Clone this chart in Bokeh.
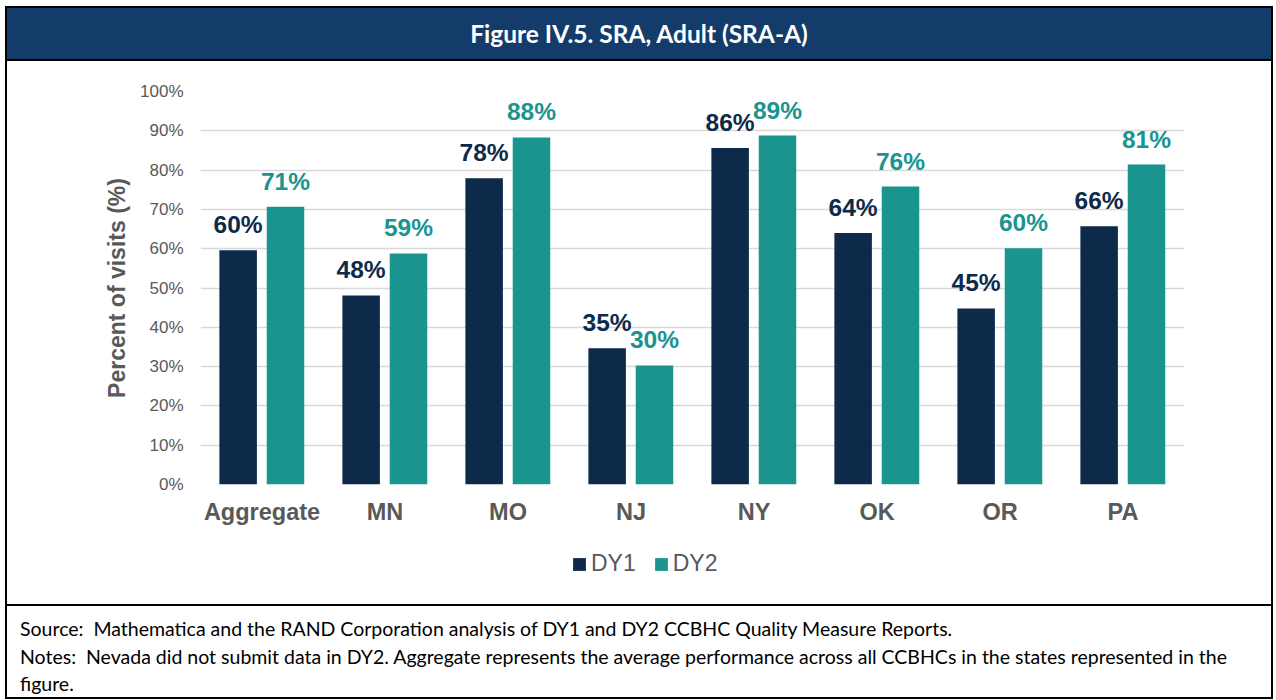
from bokeh.plotting import figure
from bokeh.models import (ColumnDataSource, FactorRange, Range1d, FixedTicker, PrintfTickFormatter,
                          LabelSet, Legend, LegendItem, Div)
from bokeh.layouts import column
from bokeh.core.properties import value
from bokeh.transform import dodge
from bokeh.embed import file_html
from bokeh.resources import INLINE

# ---- data ----
categories = ["Aggregate", "MN", "MO", "NJ", "NY", "OK", "OR", "PA"]
dy1 = [59.6, 48.1, 77.9, 34.7, 85.6, 64.0, 44.8, 65.7]
dy2 = [70.7, 58.8, 88.3, 30.3, 88.8, 75.8, 60.1, 81.4]
series_names = ["DY1", "DY2"]
y_ticks = [0, 10, 20, 30, 40, 50, 60, 70, 80, 90, 100]
title_text = "Figure IV.5. SRA, Adult (SRA-A)"
source_text = "Source:&nbsp; Mathematica and the RAND Corporation analysis of DY1 and DY2 CCBHC Quality Measure Reports."
notes_text = ("Notes:&nbsp; Nevada did not submit data in DY2. Aggregate represents the average performance "
              "across all CCBHCs in the states represented in the<br>figure.")

C1 = "#0E2A4A"
C2 = "#19948F"
GRAY = "#595959"
NAVY = "#133C6B"
ARIAL = "Liberation Sans"
CAL = "Lato"

src = ColumnDataSource(dict(
    cats=categories, dy1=dy1, dy2=dy2,
    lab1=[f"{round(v)}%" for v in dy1],
    lab2=[f"{round(v)}%" for v in dy2],
))

W = 1264
PH = 473
p = figure(width=W, height=PH, output_backend="svg", toolbar_location=None,
           x_range=FactorRange(*categories, range_padding=0),
           y_range=Range1d(0, 100),
           min_border_left=193, min_border_right=87, min_border_top=30, min_border_bottom=50)
p.outline_line_color = None
p.background_fill_color = "white"
p.border_fill_color = "white"

r1 = p.vbar(x=dodge("cats", -0.194, range=p.x_range), top="dy1", width=0.305, source=src,
            fill_color=C1, line_color=None)
r2 = p.vbar(x=dodge("cats", 0.191, range=p.x_range), top="dy2", width=0.305, source=src,
            fill_color=C2, line_color=None)

for col, top, off, colr in (("lab1", "dy1", -0.194, C1), ("lab2", "dy2", 0.191, C2)):
    ls = LabelSet(x=dodge("cats", off, range=p.x_range), y=top, text=col, source=src,
                  y_offset=17, text_align="center", text_baseline="alphabetic",
                  text_font=value(ARIAL), text_font_style="bold", text_font_size="24.5px", text_color=colr)
    p.add_layout(ls)

# axes & grid
p.xgrid.grid_line_color = None
p.ygrid.grid_line_color = "#D9D9D9"
p.ygrid.grid_line_width = 1.5
p.yaxis.ticker = FixedTicker(ticks=y_ticks)
p.yaxis.formatter = PrintfTickFormatter(format="%d%%")
for ax in (p.xaxis[0], p.yaxis[0]):
    ax.axis_line_color = None
    ax.major_tick_line_color = None
    ax.minor_tick_line_color = None
p.yaxis.major_label_text_font = ARIAL
p.yaxis.major_label_text_font_size = "17px"
p.yaxis.major_label_text_color = GRAY
p.yaxis.major_label_standoff = 11
p.yaxis.axis_label = "Percent of visits (%)"
p.yaxis.axis_label_text_font = ARIAL
p.yaxis.axis_label_text_font_style = "bold"
p.yaxis.axis_label_text_font_size = "23px"
p.yaxis.axis_label_text_color = GRAY
p.yaxis.axis_label_standoff = 7
p.xaxis.major_label_text_font = ARIAL
p.xaxis.major_label_text_font_style = "bold"
p.xaxis.major_label_text_font_size = "23.5px"
p.xaxis.major_label_text_color = GRAY
p.xaxis.major_label_standoff = 8

# legend strip (own small figure; its frame is aligned with the chart frame)
LH = 70
lf = figure(width=W, height=LH, output_backend="svg", toolbar_location=None,
            x_range=Range1d(0, 1), y_range=Range1d(0, 1),
            x_axis_location=None, y_axis_location=None,
            min_border=0, min_border_left=0, min_border_right=0, min_border_top=0, min_border_bottom=0)
lf.outline_line_color = None
lf.xgrid.grid_line_color = None
lf.ygrid.grid_line_color = None
lf.background_fill_color = "white"
lf.border_fill_color = "white"
hidden = ColumnDataSource(dict(x=[-10], top=[-10]))
lr1 = lf.vbar(x="x", top="top", width=0.1, source=hidden, fill_color=C1, line_color=None)
lr2 = lf.vbar(x="x", top="top", width=0.1, source=hidden, fill_color=C2, line_color=None)
legend = Legend(items=[LegendItem(label=series_names[0], renderers=[lr1]),
                       LegendItem(label=series_names[1], renderers=[lr2])],
                location=(371, 27), orientation="horizontal",
                glyph_width=16, glyph_height=16, label_standoff=4, spacing=17,
                padding=0, margin=0, border_line_color=None, background_fill_alpha=0,
                label_text_font=ARIAL, label_text_font_size="23px", label_text_color=GRAY)
lf.add_layout(legend, "center")

title_div = Div(
    text=(f'<div style="width:{W}px;height:51px;line-height:52px;text-align:center;color:white;'
          f'font-family:{CAL};font-weight:bold;font-size:24.5px;background-color:{NAVY};">{title_text}</div>'),
    width=W, height=51, styles={"background-color": NAVY, "margin": "0", "padding": "0"})

notes_div = Div(
    text=(f'<div style="width:{W - 13}px;height:82px;padding:9px 0 0 13px;color:black;'
          f'font-family:{CAL};font-size:19.5px;line-height:27.5px;background-color:white;white-space:nowrap;">'
          f'{source_text}<br>{notes_text}</div>'),
    width=W, height=91, styles={"background-color": "white", "margin": "0", "padding": "0", "overflow": "hidden"})

chart = column(p, lf, spacing=0, styles={"background-color": "white"})
layout = column(title_div, chart, notes_div, spacing=2,
                styles={"background-color": "black", "padding": "2px", "margin-left": "5px",
                        "margin-top": "6px"})

open("out.html", "w").write(file_html(layout, INLINE))
